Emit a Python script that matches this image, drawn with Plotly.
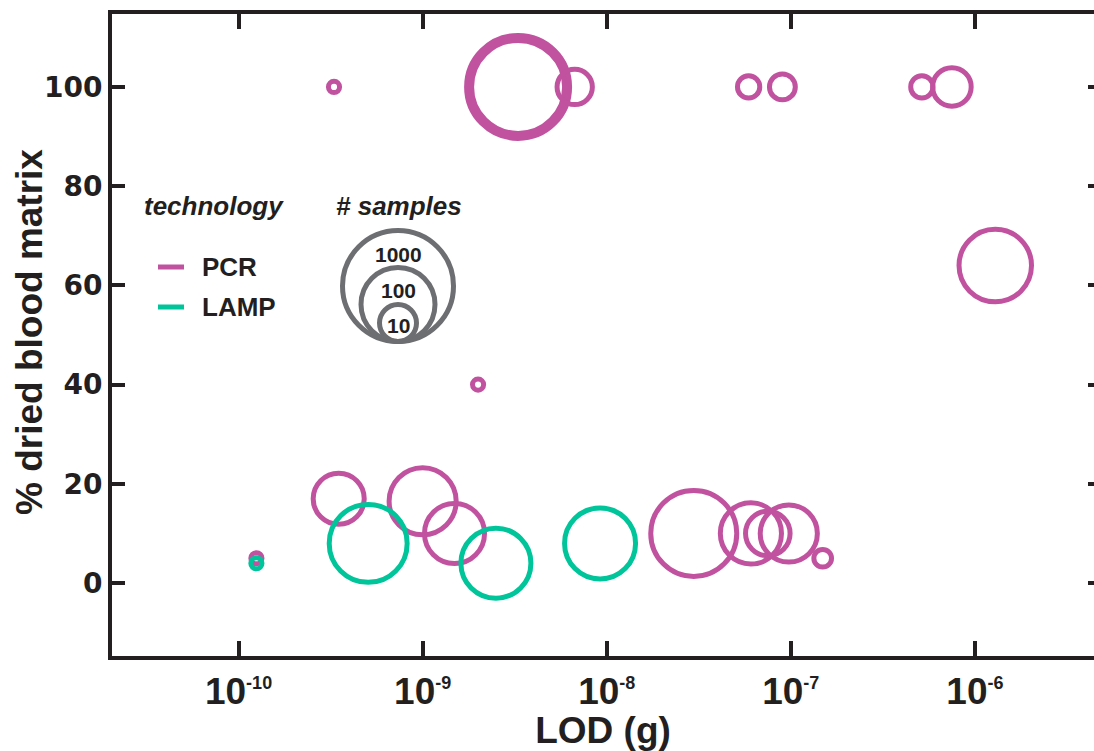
import numpy as np
import plotly.graph_objects as go

# ---------------- data ----------------
pcr_lod = [3.3e-10, 3.3e-9, 6.7e-9, 5.9e-8, 9.0e-8, 5.15e-7, 7.5e-7, 1.29e-6,
           2.0e-9, 1.25e-10, 3.5e-10, 1.0e-9, 1.49e-9, 2.97e-8, 6.07e-8,
           7.5e-8, 9.75e-8, 1.49e-7]
pcr_dbm = [100, 100, 100, 100, 100, 100, 100, 64, 40, 5, 17, 16.5, 10, 10,
           10, 10, 10, 5]
pcr_samples = [2, 445, 9, 4, 5, 4, 11, 91, 2, 2, 24, 65, 42, 211, 45, 16, 35, 3]

lamp_lod = [1.25e-10, 5.06e-10, 2.5e-9, 9.2e-9]
lamp_dbm = [4, 8, 4, 8]
lamp_samples = [2, 128, 78, 83]

legend_samples = [1000, 100, 10]
x_tickvals = [1e-10, 1e-9, 1e-8, 1e-7, 1e-6]
x_exponents = ["-10", "-9", "-8", "-7", "-6"]
y_tickvals = [0, 20, 40, 60, 80, 100]

# ---------------- styles ----------------
PCR_C = "#C152A0"
LAMP_C = "#00C49A"
GRAY = "#6D6E71"
INK = "#231F20"
ARIAL = "Liberation Sans, Arial, sans-serif"

W_FIG, H_FIG = 1094, 751
L, T, W, H = 112, 14, 982, 642   # plot area in px


def radius(n):
    """bubble radius (px, stroke centre) for a number of samples"""
    return 18.5 * np.log10(np.asarray(n, dtype=float))


def fx(px):
    return (px - L) / W


def fy(py):
    return (T + H - py) / H


pcr_lw = [5, 10, 5, 5, 5, 5, 5, 5, 5, 5, 5, 5, 5, 5, 5, 5, 5, 5]

fig = go.Figure()
fig.add_trace(go.Scatter(
    x=pcr_lod, y=pcr_dbm, mode="markers", name="PCR",
    marker=dict(size=2 * radius(pcr_samples), sizemode="diameter",
                color="rgba(0,0,0,0)", opacity=1,
                line=dict(color=PCR_C, width=pcr_lw)),
    showlegend=False))
fig.add_trace(go.Scatter(
    x=lamp_lod, y=lamp_dbm, mode="markers", name="LAMP",
    marker=dict(size=2 * radius(lamp_samples), sizemode="diameter",
                color="rgba(0,0,0,0)", opacity=1,
                line=dict(color=LAMP_C, width=5)),
    showlegend=False))
# empty trace to activate the right-hand tick axis
fig.add_trace(go.Scatter(x=[], y=[], yaxis="y2", showlegend=False))

shapes = []
annotations = []


def note(text, x, y, size, xanchor="left", angle=0):
    annotations.append(dict(text=text, xref="paper", yref="paper",
                            x=fx(x), y=fy(y), xanchor=xanchor,
                            yanchor="middle", showarrow=False,
                            textangle=angle,
                            font=dict(family=ARIAL, size=size, color=INK)))


# y-axis title
note("<b>% dried blood matrix</b>", 29, 332, 37, "center", -90)

# legend: technology
note("<b><i>technology</i></b>", 142, 206, 26)
for lbl, col, yy in [("PCR", PCR_C, 267), ("LAMP", LAMP_C, 307)]:
    shapes.append(dict(type="line", xref="paper", yref="paper",
                       x0=fx(158), x1=fx(184), y0=fy(yy), y1=fy(yy),
                       line=dict(color=col, width=5)))
    note("<b>%s</b>" % lbl, 200, yy - 0.5, 26)

# legend: # samples
note("<b><i># samples</i></b>", 399, 206, 26, "center")
cx, bottom, lw_leg = 398, 344, 5
for n in legend_samples:
    r = float(radius(n))
    shapes.append(dict(type="circle", xref="paper", yref="paper",
                       xsizemode="pixel", ysizemode="pixel",
                       xanchor=fx(cx), yanchor=fy(bottom - lw_leg / 2),
                       x0=-r, x1=r, y0=0, y1=2 * r,
                       line=dict(color=GRAY, width=lw_leg)))
label_y = {1000: 254.5, 100: 290.5, 10: 325.5}
for n in legend_samples:
    note("<b>%d</b>" % n, 398, label_y[n], 21, "center")

x_ticktext = ["<b>10<sup><span style='font-size:18px'>%s</span></sup></b>" % e
              for e in x_exponents]

fig.update_layout(
    width=W_FIG, height=H_FIG,
    margin=dict(l=L, r=W_FIG - L - W, t=T, b=H_FIG - T - H, pad=0),
    paper_bgcolor="white", plot_bgcolor="white",
    shapes=shapes, annotations=annotations,
    xaxis=dict(type="log", range=[-10.6875, -5.353],
               tickvals=x_tickvals, ticktext=x_ticktext,
               ticks="inside", ticklen=15, tickwidth=3.5, tickcolor=INK,
               showline=True, linewidth=4, linecolor=INK, mirror="ticks",
               showgrid=False, zeroline=False,
               tickfont=dict(family=ARIAL, size=37, color=INK),
               title=dict(text="<b>LOD (g)</b>", standoff=7,
                          font=dict(family=ARIAL, size=37, color=INK))),
    yaxis=dict(range=[-14.7, 114.7], tickvals=y_tickvals,
               ticks="inside", ticklen=13, tickwidth=3.5, tickcolor=INK,
               showline=True, linewidth=4, linecolor=INK, mirror=False,
               showgrid=False, zeroline=False,
               tickfont=dict(family="DejaVu Sans", size=28, color=INK,
                             weight="bold")),
    yaxis2=dict(overlaying="y", side="right", anchor="x",
                range=[-14.7, 114.7], tickvals=y_tickvals,
                ticks="inside", ticklen=6, tickwidth=3.5, tickcolor=INK,
                showticklabels=False, showline=False, showgrid=False,
                zeroline=False),
)

fig.write_html("out.html")
